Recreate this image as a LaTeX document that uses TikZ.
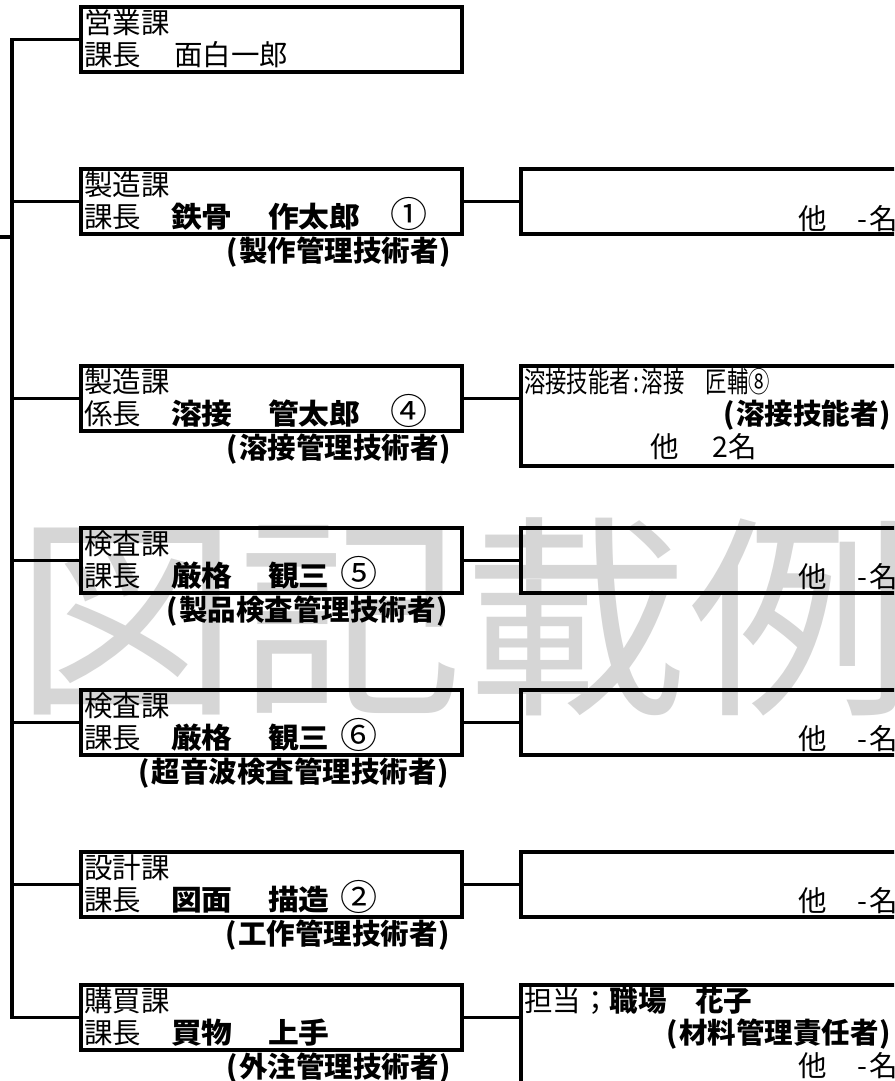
\documentclass[tikz,border=0pt]{standalone}
\usepackage{fontspec}
\usepackage{graphicx}
\newfontfamily\jp{Noto Sans CJK JP}
\newcommand\hw[1]{\makebox[0.5em]{#1}}
\newcommand\cond[1]{\scalebox{0.75}[1]{#1}}
\newcommand\wide[1]{\scalebox{1.08}[1]{#1}}
\newcommand\circnum[1]{\scalebox{1.3}[1.25]{#1}}
\begin{document}
\begin{tikzpicture}[x=1pt,y=-1pt,
  frame/.style={draw, line width=3.5pt, inner sep=0pt, outer sep=0pt, minimum width=381pt, minimum height=65pt},
  rframe/.style={draw, line width=3.5pt, inner sep=0pt, outer sep=0pt, minimum width=389pt, minimum height=65pt},
  link/.style={line width=3.5pt},
  txt/.style={anchor=base west, inner sep=0pt, font=\jp\fontsize{28.5}{30}\selectfont},
  bld/.style={txt, font=\jp\bfseries\fontsize{28.5}{30}\selectfont},
  lab/.style={anchor=base east, inner sep=0pt, font=\jp\bfseries\fontsize{28.5}{30}\selectfont},
  wm/.style={anchor=base west, inner sep=0pt, text=black!16, font=\jp\fontsize{215}{220}\selectfont}]
\useasboundingbox (0,0) rectangle (894,1081);
\clip (0,0) rectangle (894,1081);
\fill[white] (0,0) rectangle (894,1081);
\node[wm] (wm) at (14,698) {\scalebox{1.045}[1]{図記載例}};
% left boxes
\node[frame] (L1) at (271.5,39.5) {};
\node[frame] (L2) at (271.5,201.5) {};
\node[frame] (L3) at (271.5,398.5) {};
\node[frame] (L4) at (271.5,560.5) {};
\node[frame] (L5) at (271.5,722.5) {};
\node[frame] (L6) at (271.5,884.5) {};
\node[frame] (L7) at (271.5,1017.5) {};
% right boxes
\node[rframe] (R2) at (715.5,201.5) {};
\node[rframe, minimum height=100pt] (R3) at (715.5,416) {};
\node[rframe] (R4) at (715.5,560.5) {};
\node[rframe] (R5) at (715.5,722.5) {};
\node[rframe] (R6) at (715.5,884.5) {};
\node[rframe, minimum height=110pt] (R7) at (715.5,1040) {};
% spine
\coordinate (spine) at (12,0);
\coordinate (parent) at (0,237);
\draw[link] (L1.west) -- (L1.west -| spine) -- (L7.west -| spine) -- (L7.west);
\foreach \i in {2,...,6} \draw[link] (spine |- L\i.west) -- (L\i.west);
\draw[link] (parent) -- (parent -| spine);
\foreach \i in {2,...,7} \draw[link] (L\i.east) -- (L\i.east -| R\i.west);
% row 1
\node[txt] (t1a) at (84,33.5) {営業課};
\node[txt] (t1b) at (84,65.5) {課長};
\node[txt] (t1c) at (174,65.5) {面白一郎};
% row 2
\node[txt] (t2a) at (84,195.5) {製造課};
\node[txt] (t2b) at (84,227.5) {課長};
\node[bld] (t2n) at (171,227.5) {\wide{鉄骨}};
\node[bld] (t2m) at (268,227.5) {\wide{作太郎}};
\node[txt] (t2k) at (390,227.5) {\circnum{①}};
\node[lab] (t2c) at (453,261) {\hw{(}製作管理技術者\hw{)}};
% row 3
\node[txt] (t3a) at (84,392.5) {製造課};
\node[txt] (t3b) at (84,424.5) {係長};
\node[bld] (t3n) at (171,424.5) {\wide{溶接}};
\node[bld] (t3m) at (268,424.5) {\wide{管太郎}};
\node[txt] (t3k) at (390,424.5) {\circnum{④}};
\node[lab] (t3c) at (453,458) {\hw{(}溶接管理技術者\hw{)}};
% row 4
\node[txt] (t4a) at (84,554.5) {検査課};
\node[txt] (t4b) at (84,586.5) {課長};
\node[bld] (t4n) at (171,586.5) {\wide{厳格}};
\node[bld] (t4m) at (268,586.5) {\wide{観三}};
\node[txt] (t4k) at (340,586.5) {\circnum{⑤}};
\node[lab] (t4c) at (450,620) {\hw{(}製品検査管理技術者\hw{)}};
% row 5
\node[txt] (t5a) at (84,716.5) {検査課};
\node[txt] (t5b) at (84,748.5) {課長};
\node[bld] (t5n) at (171,748.5) {\wide{厳格}};
\node[bld] (t5m) at (268,748.5) {\wide{観三}};
\node[txt] (t5k) at (340,748.5) {\circnum{⑥}};
\node[lab] (t5c) at (451,782) {\hw{(}超音波検査管理技術者\hw{)}};
% row 6
\node[txt] (t6a) at (84,878.5) {設計課};
\node[txt] (t6b) at (84,910.5) {課長};
\node[bld] (t6n) at (171,910.5) {\wide{図面}};
\node[bld] (t6m) at (268,910.5) {\wide{描造}};
\node[txt] (t6k) at (340,910.5) {\circnum{②}};
\node[lab] (t6c) at (452,944) {\hw{(}工作管理技術者\hw{)}};
% row 7
\node[txt] (t7a) at (84,1011.5) {購買課};
\node[txt] (t7b) at (84,1043.5) {課長};
\node[bld] (t7n) at (171,1043.5) {\wide{買物}};
\node[bld] (t7m) at (268,1043.5) {\wide{上手}};
\node[lab] (t7c) at (453,1077) {\hw{(}外注管理技術者\hw{)}};
% right texts
\node[txt] (r2) at (798,229) {他　\hw{-}名};
\node[txt] (r3a) at (524,392.5) {\cond{溶接技能者\hw{:}溶接　匠輔⑧}};
\node[lab] (r3b) at (893,424.5) {\hw{(}溶接技能者\hw{)}};
\node[txt] (r3c) at (650,457) {他\hspace{34pt}\makebox[16pt]{2}名};
\node[txt] (r4) at (798,587.5) {他　\hw{-}名};
\node[txt] (r5) at (798,749.5) {他　\hw{-}名};
\node[txt] (r6) at (798,911.5) {他　\hw{-}名};
\node[txt] (r7a) at (524,1011.5) {担当；{\bfseries 職場　花子}};
\node[lab] (r7b) at (893,1043.5) {\hw{(}材料管理責任者\hw{)}};
\node[txt] (r7c) at (798,1076) {他　\hw{-}名};
\end{tikzpicture}
\end{document}
